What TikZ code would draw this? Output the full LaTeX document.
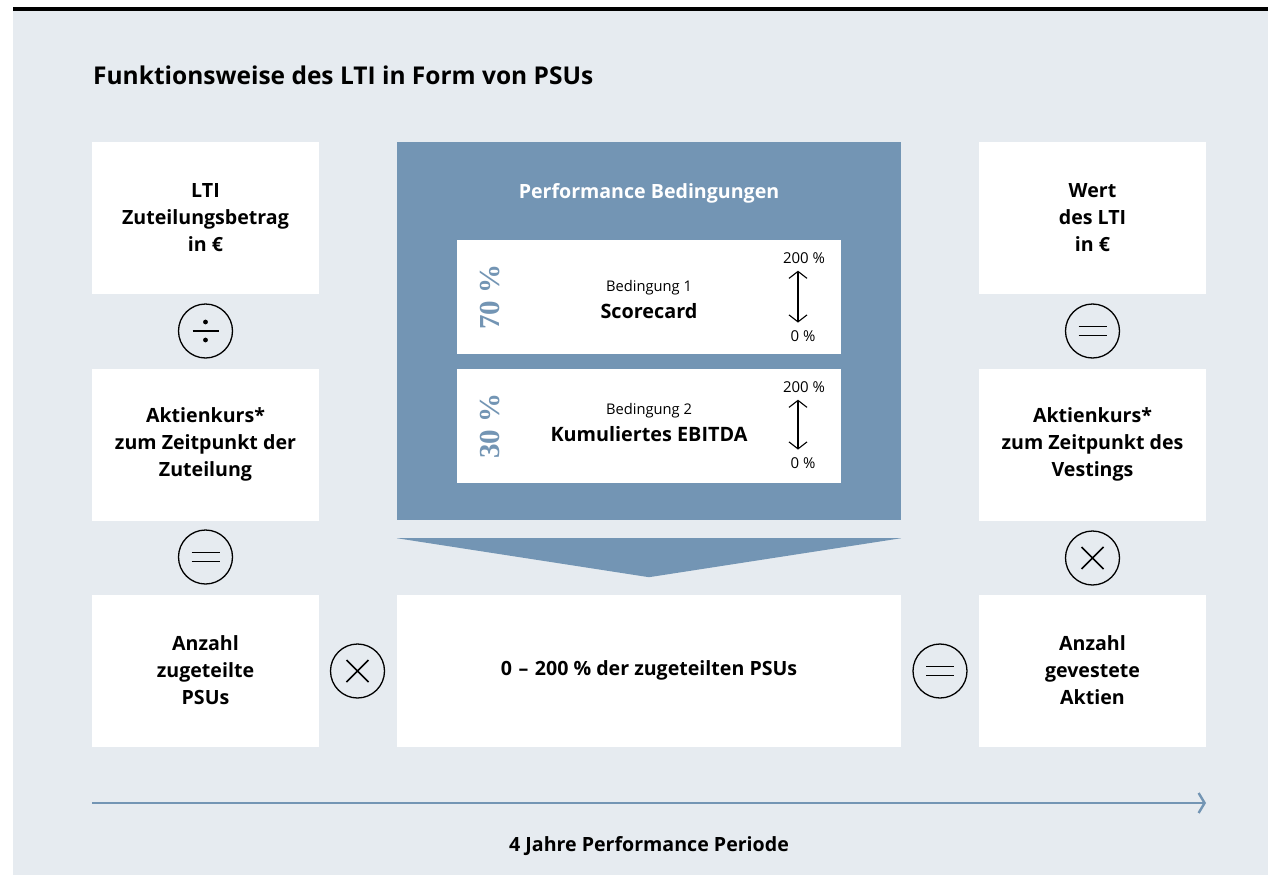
\documentclass[tikz,border=0pt]{standalone}
\usepackage{fontspec}
\setmainfont{Open Sans}
\newfontfamily\pctfont{Liberation Serif}
\usetikzlibrary{arrows.meta}

\definecolor{pagebg}{HTML}{E6EBF0}
\definecolor{perfblue}{HTML}{7395B4}

\begin{document}
\begin{tikzpicture}[x=1pt, y=-1pt,
    box/.style={fill=white, minimum width=227pt, minimum height=152pt, align=center, font=\bfseries\fontsize{19.6}{27}\selectfont},
    card/.style={fill=white, minimum width=384pt, minimum height=114pt},
    subline/.style={anchor=base, font=\fontsize{14.7}{16}\selectfont},
    condline/.style={anchor=base, font=\bfseries\fontsize{19.8}{20}\selectfont},
    limit/.style={anchor=base, font=\fontsize{15}{16}\selectfont},
    share/.style={rotate=90, text=perfblue, font=\pctfont\bfseries\fontsize{29}{30}\selectfont},
    spread/.style={{Straight Barb[length=7pt,width=18pt]}-{Straight Barb[length=7pt,width=18pt]}, line width=1.1pt},
    op/.style={circle, draw, line width=1.3pt, minimum size=54pt, inner sep=0pt},
    opeq/.style={op, path picture={
        \draw[line width=1.7pt] ([shift={(-14pt,4.5pt)}]path picture bounding box.center) -- ++(28,0)
                                ([shift={(-14pt,-4.5pt)}]path picture bounding box.center) -- ++(28,0);}},
    optimes/.style={op, path picture={
        \draw[line width=1.6pt] ([shift={(-11pt,-11pt)}]path picture bounding box.center) -- ++(22,-22)
                                ([shift={(-11pt,11pt)}]path picture bounding box.center) -- ++(22,22);}},
    opdiv/.style={op, path picture={
        \draw[line width=1.7pt] ([shift={(-13pt,0pt)}]path picture bounding box.center) -- ++(26,0);
        \fill ([shift={(0pt,9pt)}]path picture bounding box.center) circle (2.4pt)
              ([shift={(0pt,-9pt)}]path picture bounding box.center) circle (2.4pt);}},
    timeline/.style={-{Straight Barb[length=6pt,width=20pt]}, line width=2.4pt, perfblue}
]
\useasboundingbox (0,0) rectangle (1268,875);

% Background and top rule
\fill[pagebg] (13,11) rectangle (1268,875);
\fill[black] (13,7) rectangle (1268,11.5);

% Title
\node[anchor=base west, inner sep=0pt, font=\bfseries\fontsize{24.5}{26}\selectfont] (title) at (93,84) {Funktionsweise des LTI in Form von PSUs};

% Left column
\node[box] (grant) at (205.5,218) {LTI\\Zuteilungsbetrag\\in €};
\node[box] (price1) at (205.5,444.5) {Aktienkurs*\\zum Zeitpunkt der\\Zuteilung};
\node[box] (granted) at (205.5,670.5) {Anzahl\\zugeteilte\\PSUs};
\node[opdiv] (div1) at (205.5,331) {};
\node[opeq] (eq1) at (205.5,557) {};

% Performance conditions
\node[fill=perfblue, minimum width=504pt, minimum height=378pt] (perf) at (649,331) {};
\node[anchor=base, text=white, font=\bfseries\fontsize{19.6}{20}\selectfont] (perftitle) at (649,198) {Performance Bedingungen};

\node[card] (card1) at (649,296.5) {};
\node[subline] (sub1) at (649,291) {Bedingung 1};
\node[condline] (cond1) at (649,318) {Scorecard};
\node[limit] (hi1) at (804,263) {200 \%};
\node[limit] (lo1) at (803,341) {0 \%};
\node[share] (w1) at (490,297) {70~\%};
\draw[spread] ([xshift=-6pt,yshift=-4pt]hi1.south) -- ([xshift=-5pt,yshift=4pt]lo1.north);

\node[card] (card2) at (649,426) {};
\node[subline] (sub2) at (649,414) {Bedingung 2};
\node[condline] (cond2) at (649,441) {Kumuliertes EBITDA};
\node[limit] (hi2) at (804,392) {200 \%};
\node[limit] (lo2) at (803,468) {0 \%};
\node[share] (w2) at (490,426) {30~\%};
\draw[spread] ([xshift=-6pt,yshift=-4pt]hi2.south) -- ([xshift=-5pt,yshift=4pt]lo2.north);

% Funnel
\fill[perfblue] ([yshift=-18pt]perf.south west) -- ([yshift=-18pt]perf.south east) -- ([yshift=-57pt]perf.south) -- cycle;

% Result row
\node[box, minimum width=504pt] (result) at (649,670.5) {0\,\,–\,\,200 \% der zugeteilten PSUs};
\node[optimes] (times1) at (357.5,671) {};
\node[opeq] (eq2) at (940,671) {};

% Right column
\node[box] (value) at (1092.5,218) {Wert\\des LTI\\in €};
\node[box] (price2) at (1092.5,444.5) {Aktienkurs*\\zum Zeitpunkt des\\Vestings};
\node[box] (vested) at (1092.5,670.5) {Anzahl\\gevestete\\Aktien};
\node[opeq] (eq3) at (1092.5,331) {};
\node[optimes] (times2) at (1092.5,558) {};

% Performance period
\coordinate (tstart) at (92,803);
\coordinate (tend) at (1206,803);
\draw[timeline] (tstart) -- (tend);
\node[anchor=base, font=\bfseries\fontsize{19.6}{20}\selectfont] (period) at (649,851) {4 Jahre Performance Periode};

\end{tikzpicture}
\end{document}
